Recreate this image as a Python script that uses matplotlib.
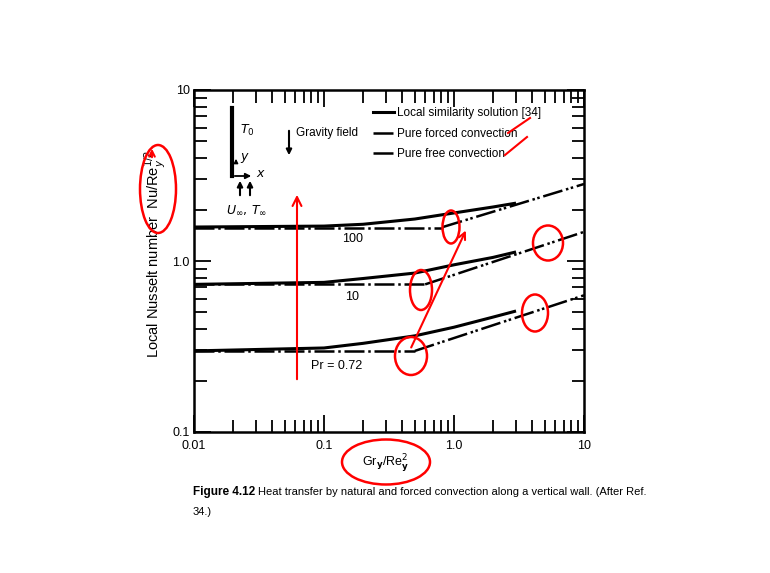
import matplotlib.pyplot as plt
from matplotlib.patches import Ellipse, FancyArrowPatch
from matplotlib.lines import Line2D

plt.rcParams['font.family'] = ['Liberation Sans', 'DejaVu Sans']

# values (x = Gr_y/Re_y^2, y = Nu/Re_y^1/2)
prandtl = ['100', '10', 'Pr = 0.72']

sim_x = [0.01, 0.1, 0.2, 0.5, 1.0, 2.0, 3.0]
sim_100 = [1.58, 1.60, 1.64, 1.76, 1.91, 2.07, 2.18]
sim_10 = [0.73, 0.75, 0.79, 0.85, 0.95, 1.05, 1.13]
sim_072 = [0.298, 0.31, 0.33, 0.365, 0.41, 0.47, 0.51]

forced_x_100 = [0.01, 0.82]
forced_100 = [1.57, 1.57]
forced_x_10 = [0.01, 0.6]
forced_10 = [0.73, 0.73]
forced_x_072 = [0.01, 0.5]
forced_072 = [0.298, 0.298]

free_x_100 = [0.82, 10]
free_100 = [1.58, 2.82]
free_x_10 = [0.6, 10]
free_10 = [0.73, 1.48]
free_x_072 = [0.5, 10]
free_072 = [0.298, 0.63]

W, H = 770, 573


def fp(x, y):
    # pixel position -> figure fraction
    return x / W, 1 - y / H


fig = plt.figure(figsize=(7.7, 5.73), dpi=100)
ax = fig.add_axes([194 / W, 1 - 432 / H, 390 / W, 342 / H])
ax.set_xscale('log')
ax.set_yscale('log')
ax.set_xlim(0.01, 10)
ax.set_ylim(0.1, 10)

forced_dash = (0, (8, 1.5, 1, 1.5))
free_dash = (0, (8, 1.5, 1, 1, 1, 1.5))

for y in (sim_100, sim_10, sim_072):
    ax.plot(sim_x, y, color='black', lw=2.2, solid_capstyle='butt')
for xs, y in ((forced_x_100, forced_100), (forced_x_10, forced_10), (forced_x_072, forced_072)):
    ax.plot(xs, y, color='black', lw=1.8, linestyle=forced_dash)
for xs, y in ((free_x_100, free_100), (free_x_10, free_10), (free_x_072, free_072)):
    ax.plot(xs, y, color='black', lw=1.8, linestyle=free_dash)

ax.text(0.166, 1.34, prandtl[0], fontsize=9, ha='center', va='center')
ax.text(0.165, 0.616, prandtl[1], fontsize=9, ha='center', va='center')
ax.text(0.126, 0.243, prandtl[2], fontsize=9, ha='center', va='center')

ax.set_xticks([0.01, 0.1, 1, 10])
ax.set_xticklabels(['0.01', '0.1', '1.0', '10'])
ax.set_yticks([0.1, 1, 10])
ax.set_yticklabels(['0.1', '1.0', '10'])
ax.tick_params(which='both', direction='in', top=True, right=True, labelsize=9, width=1.3)
ax.tick_params(which='major', length=12)
ax.tick_params(which='minor', length=9)
ax.tick_params(axis='x', pad=6)
ax.tick_params(axis='y', pad=3)
for s in ax.spines.values():
    s.set_linewidth(1.8)

ax.set_xlabel(r'Gr$_{\mathbf{y}}$/Re$^{2}_{\mathbf{y}}$', fontsize=9)
ax.xaxis.set_label_coords((386 - 194) / 390, -(452 - 432) / 342)
ax.set_ylabel(r'Local Nusselt number  Nu/Re$^{1/2}_{y}$', fontsize=10.5)
ax.yaxis.set_label_coords((168 - 194) / 390, (432 - 254) / 342)

# legend
h = [Line2D([], [], color='black', lw=2.2),
     Line2D([], [], color='black', lw=1.8, linestyle=forced_dash),
     Line2D([], [], color='black', lw=1.8, linestyle=free_dash)]
ax.legend(h, ['Local similarity solution [34]', 'Pure forced convection', 'Pure free convection'],
          loc='upper left', bbox_to_anchor=(0.432, 0.98), frameon=False, fontsize=8.5,
          handlelength=1.8, handletextpad=0.2, labelspacing=0.72, borderpad=0.4)

# sketch of the wall
fig.add_artist(Line2D([232 / W, 232 / W], [1 - 108 / H, 1 - 176 / H], color='black', lw=3))
fig.add_artist(FancyArrowPatch(fp(232, 176), fp(254, 176), arrowstyle='-|>', mutation_scale=8, color='black', lw=1.3))
fig.add_artist(FancyArrowPatch(fp(236, 166), fp(236, 156), arrowstyle='-|>', mutation_scale=6, color='black', lw=1))
fig.text(*fp(240, 130), r'$T_0$', fontsize=9, va='center')
fig.text(*fp(240, 158), r'$y$', fontsize=9, va='center')
fig.text(*fp(256, 174), r'$x$', fontsize=9, va='center')
for xx in (240, 250):
    fig.add_artist(FancyArrowPatch(fp(xx, 198), fp(xx, 178), arrowstyle='-|>', mutation_scale=8, color='black', lw=1.5))
fig.text(*fp(226, 210), r'$U_\infty,\,T_\infty$', fontsize=9, va='center')
fig.add_artist(FancyArrowPatch(fp(289, 128), fp(289, 158), arrowstyle='-|>', mutation_scale=8, color='black', lw=1.5))
fig.text(*fp(296, 133), 'Gravity field', fontsize=8.5, va='center')

# caption
fig.text(*fp(193, 492), 'Figure 4.12', fontsize=8.5, fontweight='bold', va='center')
fig.text(*fp(258, 492), 'Heat transfer by natural and forced convection along a vertical wall. (After Ref.',
         fontsize=8, va='center')
fig.text(*fp(193, 512), '34.)', fontsize=8, va='center')

# red pen annotations
red = dict(edgecolor='red', facecolor='none', lw=1.8)
fig.add_artist(Ellipse(fp(158, 189), 36 / W, 88 / H, **red))
fig.add_artist(FancyArrowPatch(fp(152, 160), fp(152, 146), arrowstyle='->', mutation_scale=10, color='red', lw=1.5))
fig.add_artist(Ellipse(fp(386, 462), 88 / W, 45 / H, **red))
for cx, cy, w, hh in ((451, 227, 17, 33), (421, 290, 22, 40), (411, 356, 32, 38),
                      (548, 243, 30, 35), (535, 313, 26, 37)):
    fig.add_artist(Ellipse(fp(cx, cy), w / W, hh / H, **red))
fig.add_artist(FancyArrowPatch(fp(297, 382), fp(297, 192), arrowstyle='->', mutation_scale=16, color='red', lw=1.5))
fig.add_artist(FancyArrowPatch(fp(410, 350), fp(467, 228), arrowstyle='->', mutation_scale=12, color='red', lw=1.5))
fig.add_artist(Line2D([508 / W, 530 / W], [1 - 133 / H, 1 - 118 / H], color='red', lw=1.5))
fig.add_artist(Line2D([505 / W, 527 / W], [1 - 155 / H, 1 - 137 / H], color='red', lw=1.5))

fig.savefig('out.png', dpi=100, facecolor='white')
